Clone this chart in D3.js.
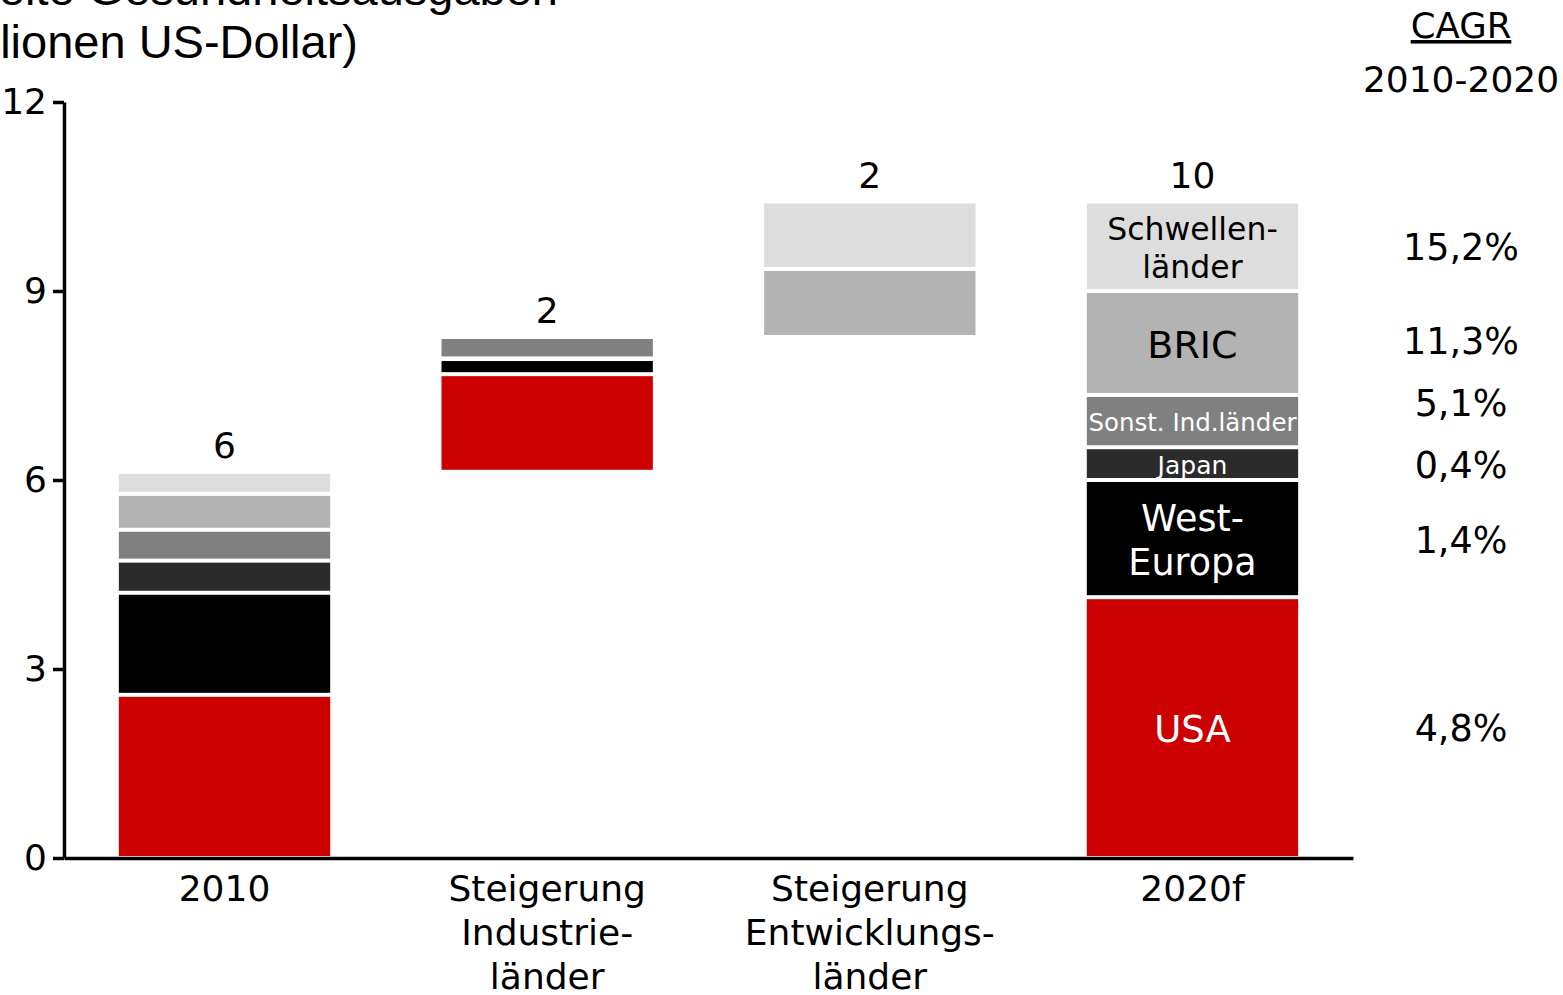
<!DOCTYPE html>
<html lang="de">
<head>
    <meta charset="UTF-8">
    <title>Weltweite Gesundheitsausgaben</title>
    <script src="https://d3js.org/d3.v7.min.js"></script>
    <style>
        html, body { margin: 0; padding: 0; background: #fff; overflow: hidden; }
        svg { display: block; }
        text { font-family: "DejaVu Sans", Verdana, sans-serif; }
        .title { font-family: "Liberation Sans", Arial, sans-serif; }
    </style>
</head>
<body>
    <div id="chart"></div>

    <script>
        // Kategorien der x-Achse (Zeilenumbrüche als Array)
        const categories = ["2010", "Steigerung Industrieländer", "Steigerung Entwicklungsländer", "2020f"];
        const categoryLines = [
            ["2010"],
            ["Steigerung", "Industrie-", "länder"],
            ["Steigerung", "Entwicklungs-", "länder"],
            ["2020f"]
        ];

        // Regionen (von unten nach oben gestapelt)
        const regions = ["USA", "West-Europa", "Japan", "Sonst. Ind.länder", "BRIC", "Schwellenländer"];
        const regionLabels = [["USA"], ["West-", "Europa"], ["Japan"], ["Sonst. Ind.länder"], ["BRIC"], ["Schwellen-", "länder"]];

        // Ausgaben in Billionen US-Dollar
        const values2010 = [2.59, 1.62, 0.51, 0.49, 0.57, 0.35];
        const values2020 = [4.14, 1.86, 0.52, 0.83, 1.65, 1.42];
        const cagr = ["4,8%", "1,4%", "0,4%", "5,1%", "11,3%", "15,2%"];

        // welche Regionen zu welcher Steigerung gehören
        const industrial = [0, 1, 2, 3];
        const developing = [4, 5];

        const yTicks = [0, 3, 6, 9, 12];

        const colors = ["#cc0000", "#000000", "#2b2b2b", "#808080", "#b3b3b3", "#dddddd"];
        const labelColors = ["#fff", "#fff", "#fff", "#fff", "#000", "#000"];
        const labelSizes = [37, 36.5, 25, 24.5, 38, 31.5];

        const width = 1563;
        const height = 995;

        const svg = d3.select("#chart")
            .append("svg")
            .attr("width", width)
            .attr("height", height);

        const x = d3.scaleBand()
            .domain(categories)
            .range([64, 1353])
            .paddingInner(0.345)
            .paddingOuter(0.17);

        const y = d3.scaleLinear()
            .domain([0, 12])
            .range([858, 102]);

        // Segmente für den Wasserfall aufbauen
        const bars = [];
        let base = 0;
        values2010.forEach((v, i) => {
            bars.push({cat: categories[0], region: i, y0: base, y1: base + v});
            base += v;
        });
        const totals = [{cat: categories[0], top: base, value: base}];

        let start = base;
        industrial.forEach(i => {
            const v = values2020[i] - values2010[i];
            bars.push({cat: categories[1], region: i, y0: base, y1: base + v});
            base += v;
        });
        totals.push({cat: categories[1], top: base, value: base - start});

        start = base;
        developing.forEach(i => {
            const v = values2020[i] - values2010[i];
            bars.push({cat: categories[2], region: i, y0: base, y1: base + v});
            base += v;
        });
        totals.push({cat: categories[2], top: base, value: base - start});

        base = 0;
        const bars2020 = [];
        values2020.forEach((v, i) => {
            const seg = {cat: categories[3], region: i, y0: base, y1: base + v};
            bars.push(seg);
            bars2020.push(seg);
            base += v;
        });
        totals.push({cat: categories[3], top: base, value: base});

        const gap = 2;

        svg.selectAll(".seg")
            .data(bars)
            .enter().append("rect")
            .attr("class", "seg")
            .attr("x", d => x(d.cat))
            .attr("width", x.bandwidth())
            .attr("y", d => y(d.y1) + gap)
            .attr("height", d => Math.max(0, y(d.y0) - y(d.y1) - 2 * gap))
            .attr("fill", d => colors[d.region]);

        // Summen über den Balken
        const fmt = d3.format(".0f");
        svg.selectAll(".total")
            .data(totals)
            .enter().append("text")
            .attr("class", "total")
            .attr("x", d => x(d.cat) + x.bandwidth() / 2)
            .attr("y", d => y(d.top) - 14)
            .attr("text-anchor", "middle")
            .style("font-size", "36px")
            .text(d => fmt(d.value));

        // Beschriftungen im 2020er Balken
        const segLabels = svg.selectAll(".seg-label")
            .data(bars2020)
            .enter().append("text")
            .attr("class", "seg-label")
            .attr("text-anchor", "middle")
            .attr("fill", d => labelColors[d.region])
            .style("font-size", d => labelSizes[d.region] + "px")
            .attr("transform", d => `translate(${x(d.cat) + x.bandwidth() / 2},${(y(d.y0) + y(d.y1)) / 2 + 1.5})`);

        segLabels.each(function(d) {
            const lines = regionLabels[d.region];
            const lh = labelSizes[d.region] * 1.2;
            d3.select(this).selectAll("tspan")
                .data(lines)
                .enter().append("tspan")
                .attr("x", 0)
                .attr("y", (l, i) => (i - (lines.length - 1) / 2) * lh)
                .attr("dy", "0.36em")
                .text(l => l);
        });

        // CAGR-Spalte
        const cagrX = 1461;
        const cagrNudge = [0, 1, 1, -18, -2, 1];
        svg.selectAll(".cagr")
            .data(bars2020)
            .enter().append("text")
            .attr("class", "cagr")
            .attr("x", cagrX)
            .attr("y", d => (y(d.y0) + y(d.y1)) / 2 + cagrNudge[d.region])
            .attr("dy", "0.36em")
            .attr("text-anchor", "middle")
            .style("font-size", "36.5px")
            .text(d => cagr[d.region]);

        svg.append("text")
            .attr("x", cagrX)
            .attr("y", 38)
            .attr("text-anchor", "middle")
            .attr("text-decoration", "underline")
            .style("font-size", "35.5px")
            .text("CAGR");

        svg.append("text")
            .attr("x", cagrX)
            .attr("y", 92)
            .attr("text-anchor", "middle")
            .style("font-size", "36px")
            .text("2010-2020");

        // Achsen
        const yAxis = svg.append("g")
            .attr("transform", "translate(64,0)")
            .call(d3.axisLeft(y).tickValues(yTicks).tickSize(11).tickSizeOuter(0).tickPadding(6));
        yAxis.selectAll("text").style("font-size", "36px").attr("fill", "#000");
        yAxis.selectAll("line, path").attr("stroke", "#000").attr("stroke-width", 3.5);

        const xAxis = svg.append("g")
            .attr("transform", "translate(0,858)")
            .call(d3.axisBottom(x).tickSize(0).tickSizeOuter(0));
        xAxis.select(".domain").attr("stroke", "#000").attr("stroke-width", 3.5);
        xAxis.selectAll(".tick text").each(function(d, i) {
            const t = d3.select(this).text("").attr("y", 0).attr("dy", null)
                .style("font-size", "36px").attr("fill", "#000");
            t.selectAll("tspan")
                .data(categoryLines[i])
                .enter().append("tspan")
                .attr("x", 0)
                .attr("y", (l, j) => 43 + j * 44)
                .text(l => l);
        });

        // Titel (oben links, teilweise angeschnitten)
        svg.append("text")
            .attr("class", "title")
            .attr("x", 558)
            .attr("y", 5)
            .attr("text-anchor", "end")
            .style("font-size", "47px")
            .text("Weltweite Gesundheitsausgaben");
        svg.append("text")
            .attr("class", "title")
            .attr("x", 358)
            .attr("y", 58)
            .attr("text-anchor", "end")
            .style("font-size", "47px")
            .text("(in Billionen US-Dollar)");
    </script>
</body>
</html>
